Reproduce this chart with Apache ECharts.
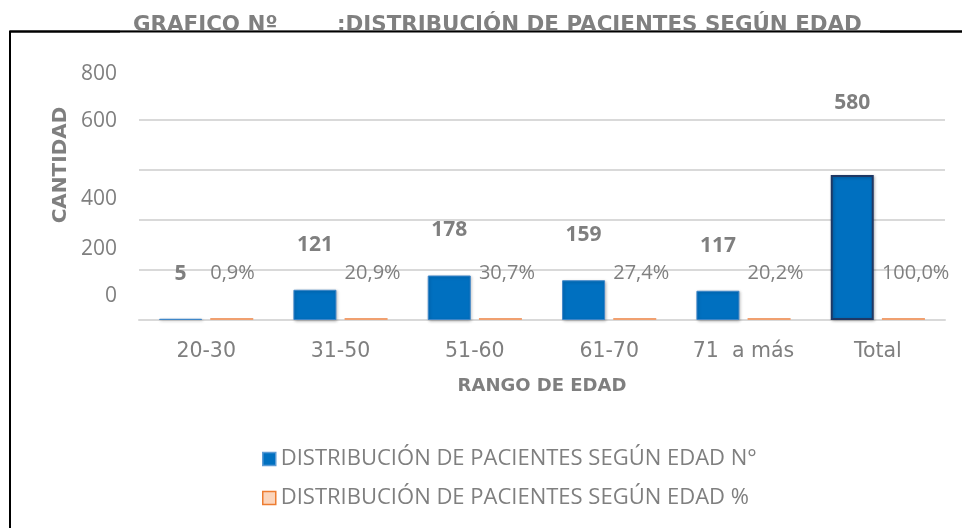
<!DOCTYPE html>
<html>
<head>
<meta charset="utf-8">
<script src="https://cdn.jsdelivr.net/npm/echarts@6/dist/echarts.min.js"></script>
<style>html,body{margin:0;padding:0;background:#fff}#c{width:962px;height:528px}</style>
</head>
<body>
<div id="c"></div>
<script>
const categories = ['20-30', '31-50', '51-60', '61-70', '71  a más', 'Total'];
const counts = [5, 121, 178, 159, 117, 580];
const percents = [0.009, 0.209, 0.307, 0.274, 0.202, 1.0];
const yTicks = [0, 200, 400, 600, 800];
const seriesNames = ['DISTRIBUCIÓN DE PACIENTES SEGÚN EDAD N°', 'DISTRIBUCIÓN DE PACIENTES SEGÚN EDAD %'];
const titleText = 'GRAFICO Nº        :DISTRIBUCIÓN DE PACIENTES SEGÚN EDAD';

const gray = '#7f7f7f';
const wide = '"DejaVu Sans", sans-serif';
const sans = '"Open Sans", "Noto Sans", sans-serif';
// vertical offsets of y tick labels (px upward), as drawn in the reference
const labelShift = {0: 24, 200: 21, 400: 21, 600: 49, 800: 46};
const rich = {};
yTicks.forEach(v => {
  rich['t' + v] = {fontFamily: sans, fontSize: 21, color: gray, padding: [0, 0, labelShift[v] * 2, 0]};
});

const chart = echarts.init(document.getElementById('c'), null, {renderer: 'canvas'});
chart.setOption({
  animation: false,
  backgroundColor: '#fff',
  grid: {left: 139, right: 17, top: 120, bottom: 208, containLabel: false},
  graphic: [
    {type: 'polyline', shape: {points: [[10, 540], [10, 31.5], [970, 31.5]]}, style: {stroke: '#000', lineWidth: 2, fill: null}, z: 1},
    {type: 'text', left: 133, top: 15, z: 4,
      style: {text: titleText, fill: '#808080', font: 'bold 21.4px ' + wide}},
    {type: 'rect', shape: {x: 120, y: 30.5, width: 760, height: 10}, style: {fill: '#fff'}, z: 5},
    {type: 'line', shape: {x1: 10, y1: 31.5, x2: 970, y2: 31.5}, style: {stroke: '#000', lineWidth: 2}, z: 6},
    {type: 'text', x: 61, y: 165, rotation: Math.PI / 2, z: 4,
      style: {text: 'CANTIDAD', fill: gray, font: 'bold 20px ' + wide, textAlign: 'center', textVerticalAlign: 'middle'}}
  ],
  legend: {
    orient: 'vertical', left: 257, top: 443, itemGap: 17, itemWidth: 13, itemHeight: 13,
    textStyle: {fontFamily: sans, fontSize: 22, color: gray, padding: [0, 0, 0, 0]},
    data: [
      {name: seriesNames[0], icon: 'rect', itemStyle: {color: '#0070C0', borderColor: '#5B9BD5', borderWidth: 1.5}},
      {name: seriesNames[1], icon: 'rect', itemStyle: {color: '#FBD5BC', borderColor: '#ED7D31', borderWidth: 1.5}}
    ]
  },
  xAxis: {
    type: 'category', data: categories,
    axisLine: {lineStyle: {color: '#d9d9d9', width: 2}},
    axisTick: {show: false},
    axisLabel: {fontFamily: wide, fontSize: 20.5, color: gray, margin: 21},
    name: 'RANGO DE EDAD', nameLocation: 'middle', nameGap: 57,
    nameTextStyle: {fontFamily: wide, fontSize: 18, fontWeight: 'bold', color: gray}
  },
  yAxis: {
    type: 'value', min: 0, max: 800, interval: 200,
    axisLine: {show: false}, axisTick: {show: false},
    splitLine: {lineStyle: {color: '#d9d9d9', width: 2}},
    axisLabel: {margin: 22, formatter: v => '{t' + v + '|' + v + '}', rich: rich}
  },
  series: [
    {
      name: seriesNames[0], type: 'bar', barWidth: 43, barGap: '19%',
      itemStyle: {color: '#0070C0', borderColor: '#3F86C8', borderWidth: 1, shadowColor: 'rgba(0,0,0,0.25)', shadowBlur: 3, shadowOffsetX: 1, shadowOffsetY: 1},
      label: {show: true, position: 'top', distance: 36, fontFamily: sans, fontSize: 21, fontWeight: 'bold', color: gray, lineHeight: 18},
      data: counts.map((v, i) => i === counts.length - 1
        ? {value: v, itemStyle: {borderColor: '#1F3864', borderWidth: 2}, label: {distance: 63}}
        : {value: v})
    },
    {
      name: seriesNames[1], type: 'bar', barWidth: 43, barMinHeight: 2,
      itemStyle: {color: '#F0A070', borderWidth: 0},
      label: {show: true, position: [0, -45], align: 'left', verticalAlign: 'middle', fontFamily: sans, fontSize: 20, color: gray, lineHeight: 18,
        formatter: p => (p.value * 100).toFixed(1).replace('.', ',') + '%'},
      data: percents
    }
  ]
});
</script>
</body>
</html>
